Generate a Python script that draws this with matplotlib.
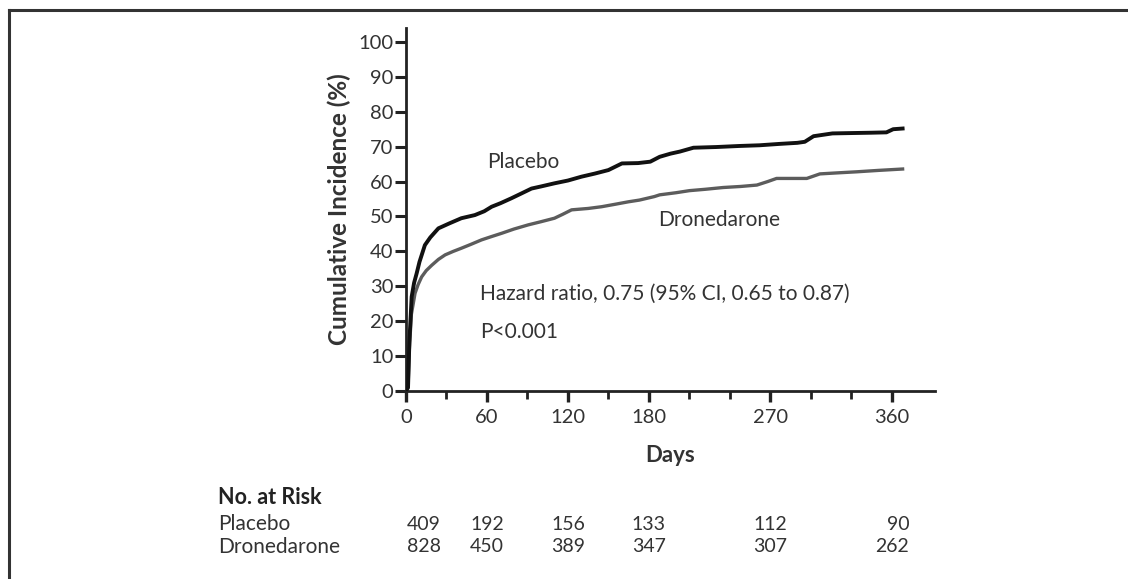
import matplotlib
matplotlib.use("Agg")
import matplotlib.pyplot as plt
from matplotlib.transforms import blended_transform_factory
from matplotlib.lines import Line2D

plt.rcParams['font.family'] = ['Lato', 'DejaVu Sans']

# ---- data ----
placebo_days = [0, 1.5, 2.5, 4.2, 6, 7.9, 10, 14, 18, 24, 32, 41, 51, 58, 63.5, 70, 78, 85, 93,
                100, 110, 120, 130, 140, 150, 160, 172, 181, 188, 196, 203, 213, 230, 247, 262,
                277, 290, 295.5, 302, 316, 330, 345, 356, 361, 368]
placebo_vals = [0, 1, 14, 27, 31, 33.7, 37, 41.8, 44, 46.6, 48, 49.5, 50.4, 51.5, 52.8, 53.8, 55.2,
                56.5, 58, 58.6, 59.5, 60.3, 61.4, 62.3, 63.3, 65.2, 65.3, 65.7, 67.1, 68, 68.6,
                69.7, 69.9, 70.2, 70.4, 70.8, 71.1, 71.4, 73, 73.8, 73.9, 74.0, 74.1, 75, 75.2]

drone_days = [0, 1.5, 2.5, 4, 6.7, 9, 11.6, 15, 19, 24, 29, 35, 41, 48, 56, 63, 71, 80, 90.6,
              100, 110, 116, 122.7, 135, 145, 155, 164.7, 173, 184, 188, 200, 210, 222, 235,
              248, 260, 268, 274.6, 285, 297, 306.7, 320, 334, 350, 368]
drone_vals = [0, 1, 12, 22, 28, 30.5, 32.7, 34.5, 36, 37.7, 39, 40, 40.9, 42, 43.3, 44.2, 45.2,
              46.4, 47.6, 48.5, 49.5, 50.6, 51.9, 52.3, 52.8, 53.5, 54.2, 54.7, 55.7, 56.2,
              56.8, 57.4, 57.8, 58.3, 58.6, 59, 60, 60.9, 60.9, 60.9, 62.2, 62.5, 62.8, 63.2, 63.6]

y_ticks = [0, 10, 20, 30, 40, 50, 60, 70, 80, 90, 100]
x_major = [0, 60, 120, 180, 270, 360]
x_minor = [30, 90, 150, 210, 240, 300, 330]

risk_days = [0, 60, 120, 180, 270, 360]
risk_placebo = [409, 192, 156, 133, 112, 90]
risk_drone = [828, 450, 389, 347, 307, 262]

# ---- figure ----
W, H = 1128, 579
fig = plt.figure(figsize=(W / 100, H / 100), dpi=100)
ax = fig.add_axes([406 / W, 1 - 391 / H, (935 - 406) / W, (391 - 28) / H])

dark = '#222222'
txt = '#333333'

ax.plot(placebo_days, placebo_vals, color='#111111', lw=2.8, zorder=3)
ax.plot(drone_days, drone_vals, color='#5c5c5c', lw=2.4, zorder=2)

ax.set_xlim(0, 392)
ax.set_ylim(0, 104)

for s in ['top', 'right']:
    ax.spines[s].set_visible(False)
for s in ['left', 'bottom']:
    ax.spines[s].set_linewidth(2.0)
    ax.spines[s].set_color(dark)

ax.set_yticks(y_ticks)
ax.set_xticks(x_major)
ax.set_xticks(x_minor, minor=True)
ax.tick_params(axis='y', direction='out', length=8, width=2.2, color=dark,
               labelsize=14.5, labelcolor=txt, pad=1)
ax.tick_params(axis='x', which='major', direction='out', length=8, width=2.4, color=dark,
               labelsize=14.5, labelcolor=txt, pad=5)
ax.tick_params(axis='x', which='minor', direction='out', length=6, width=2.0, color=dark)

ax.set_ylabel('Cumulative Incidence (%)', fontsize=17.5, fontweight='bold', color=txt, labelpad=5)
ax.set_xlabel('Days', fontsize=16, fontweight='bold', color=txt, labelpad=14)

ax.text(60, 65.5, 'Placebo', fontsize=15, color=txt, ha='left', va='center')
ax.text(187, 49, 'Dronedarone', fontsize=15, color=txt, ha='left', va='center')
ax.text(55, 27.8, 'Hazard ratio, 0.75 (95% CI, 0.65 to 0.87)', fontsize=15, color=txt,
        ha='left', va='center')
ax.text(55, 16.9, 'P<0.001', fontsize=15, color=txt, ha='left', va='center')

# ---- number at risk table ----
tr = blended_transform_factory(ax.transData, fig.transFigure)
fig.text(218 / W, 1 - 497 / H, 'No. at Risk', fontsize=15.5, fontweight='bold', color='#222222',
         ha='left', va='center')
fig.text(218 / W, 1 - 524 / H, 'Placebo', fontsize=15, color=txt, ha='left', va='center')
fig.text(218 / W, 1 - 547 / H, 'Dronedarone', fontsize=15, color=txt, ha='left', va='center')
n = len(risk_days)
for i, (d, p, q) in enumerate(zip(risk_days, risk_placebo, risk_drone)):
    if i == 0:
        ha, xd = 'left', d + 0.5
    elif i == n - 1:
        ha, xd = 'right', d + 13
    else:
        ha, xd = 'center', d
    ax.text(xd, 1 - 524 / H, str(p), transform=tr, fontsize=14, color=txt, ha=ha, va='center')
    ax.text(xd, 1 - 547 / H, str(q), transform=tr, fontsize=14, color=txt, ha=ha, va='center')

# ---- partial frame (top and left edges) ----
fig.add_artist(Line2D([8.5 / W, 1], [1 - 9.5 / H, 1 - 9.5 / H], transform=fig.transFigure,
                      color='#333333', lw=2.2))
fig.add_artist(Line2D([8.5 / W, 8.5 / W], [0, 1 - 9.5 / H], transform=fig.transFigure,
                      color='#333333', lw=2.2))

fig.savefig('out.png', dpi=100)
